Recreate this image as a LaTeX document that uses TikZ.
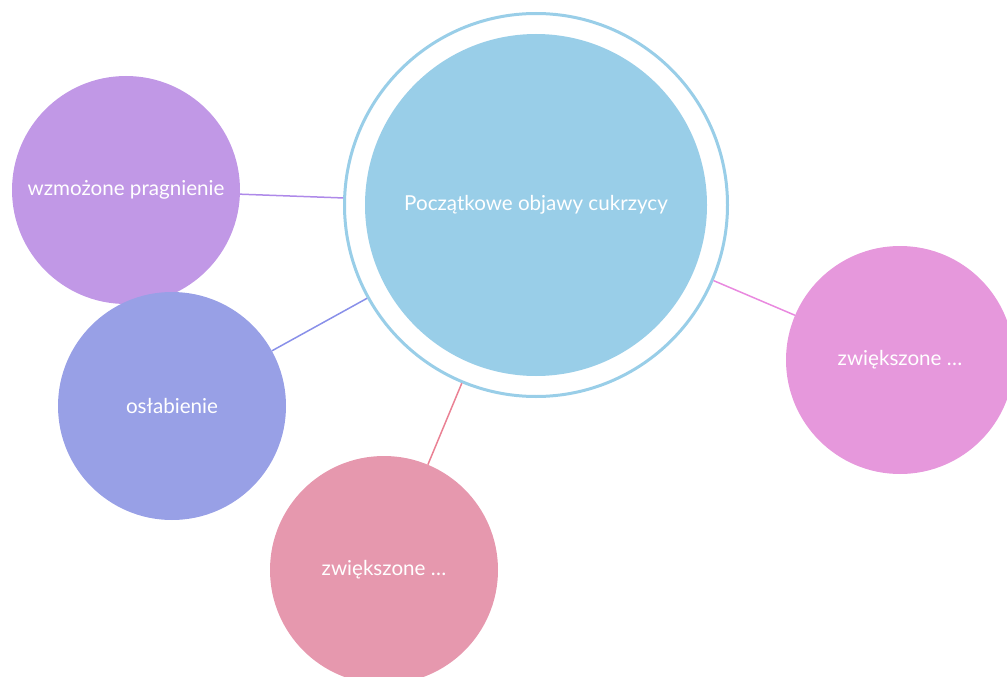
\documentclass[tikz,border=0pt]{standalone}
\usepackage{fontspec}
\setmainfont{Lato}
\usetikzlibrary{positioning}
\definecolor{coreblue}{RGB}{153,206,232}
\definecolor{thirstpurple}{RGB}{193,152,230}
\definecolor{weakblue}{RGB}{152,160,230}
\definecolor{rosepink}{RGB}{230,152,174}
\definecolor{orchid}{RGB}{230,152,220}

\begin{document}
\begin{tikzpicture}[
    x=1pt, y=-1pt,
    bubble/.style={circle, minimum size=228pt, inner sep=0pt, text=white},
    link/.style={line width=1.5pt},
    every node/.style={font=\fontsize{20.6}{22}\selectfont}
]
\useasboundingbox (0,0) rectangle (1007,677);

% Central topic
\node[circle, draw=coreblue, line width=3pt, fill=white, minimum size=383pt, inner sep=0pt] (ring) at (536,205) {};
\node[circle, fill=coreblue, minimum size=342pt, inner sep=0pt, text=white] (core) at (536,205) {Początkowe objawy cukrzycy};

% Symptoms
\node[bubble, fill=thirstpurple] (thirst) at (126,190) {wzmożone pragnienie};
\node[bubble, fill=weakblue]     (weak)   at (172,406) {osłabienie};
\node[bubble, fill=rosepink]     (moreA)  at (384,570) {zwiększone \dots};
\node[bubble, fill=orchid]       (moreB)  at (900,360) {zwiększone \dots};

% Links
\draw[link, thirstpurple!90!blue] (thirst) -- (ring);
\draw[link, weakblue!90!blue]     (weak)   -- (ring);
\draw[link, rosepink!85!red]      (moreA)  -- (ring);
\draw[link, orchid!90!magenta]    (moreB)  -- (ring);

\end{tikzpicture}
\end{document}
